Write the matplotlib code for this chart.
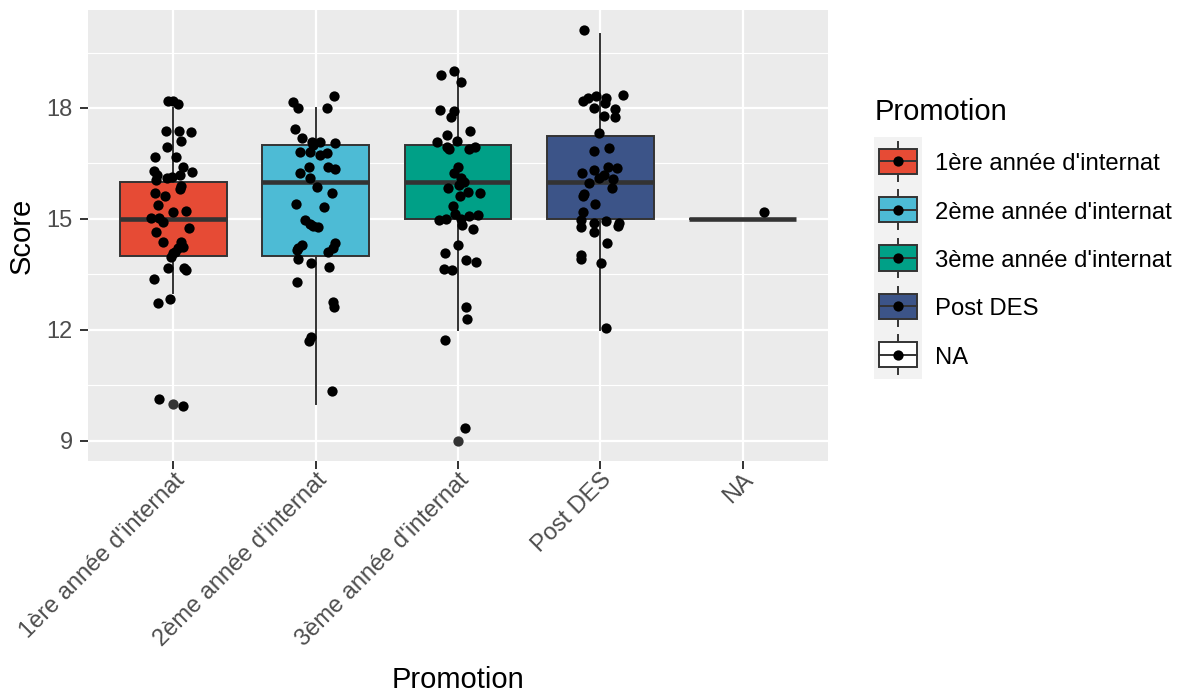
import matplotlib
matplotlib.use("Agg")
import matplotlib.pyplot as plt
from matplotlib.patches import Rectangle

plt.rcParams['font.family'] = ['Liberation Sans', 'DejaVu Sans']

# ---------------- data ----------------
categories = ["1ère année d'internat", "2ème année d'internat", "3ème année d'internat", "Post DES", "NA"]
fill_colors = ["#E64B35", "#4DBBD5", "#00A087", "#3C5488", "#FFFFFF"]

# box statistics (whisker low, Q1, median, Q3, whisker high) and outliers
whislo = [13, 10, 12, 12, 15]
q1 = [14, 14, 15, 15, 15]
med = [15, 16, 16, 16, 15]
q3 = [16, 17, 17, 17.25, 15]
whishi = [18, 18, 19, 20, 15]
outliers = [[10], [], [9], [], []]

# jittered points: horizontal jitter (category units) and displayed score
g1_dx = [-0.035, 0, 0.035, -0.049, 0.042, 0.127, 0.056, -0.042, -0.127, 0.021, 0.070, -0.134, 0.134,
         -0.113, -0.042, -0.007, 0.049, -0.120, 0.056, 0.049, -0.127, -0.056, -0.106, 0, 0.092,
         -0.155, -0.099, -0.070, 0.113, -0.120, -0.070, 0.056, 0.070, 0.035, 0.014, 0, -0.014,
         -0.035, 0.077, 0.092, -0.134, -0.021, -0.106, -0.102, 0.070]
g1_y = [18.2, 18.2, 18.1, 17.38, 17.37, 17.35, 17.1, 16.95, 16.68, 16.68, 16.4, 16.3, 16.27,
        16.2, 16.1, 16.13, 16.2, 16.05, 15.9, 15.8, 15.7, 15.62, 15.38, 15.19, 15.2,
        15.03, 15.03, 14.92, 14.76, 14.65, 14.38, 14.38, 14.24, 14.22, 14.1, 14.08, 13.97,
        13.68, 13.68, 13.62, 13.38, 12.84, 12.72, 10.14, 9.95]

g2_dx = [0.127, -0.162, -0.127, 0.077, -0.148, -0.099, -0.028, 0.028, -0.021, 0.134, -0.113, -0.042,
         0.028, 0.077, -0.049, 0.085, 0.134, -0.113, -0.042, 0.007, 0.113, -0.141, 0.056, -0.077,
         -0.042, 0.014, -0.021, -0.099, -0.127, -0.134, 0.134, 0.120, 0.085, -0.127, -0.035, 0.092,
         -0.134, 0.120, 0.127, -0.035, -0.049, 0.113]
g2_y = [18.32, 18.16, 18.0, 18.0, 17.43, 17.2, 17.08, 17.08, 17.0, 17.05, 16.8, 16.8,
        16.73, 16.78, 16.4, 16.4, 16.35, 16.24, 16.1, 15.86, 15.7, 15.4, 15.32, 14.97,
        14.86, 14.78, 14.81, 14.3, 14.2, 14.16, 14.35, 14.2, 14.1, 13.92, 13.8, 13.7,
        13.3, 12.75, 12.62, 11.8, 11.7, 10.35]

g3_dx = [-0.120, -0.028, 0.021, -0.127, -0.049, -0.028, 0.085, -0.077, -0.148, -0.007, -0.077, -0.063,
         0.077, 0.120, 0, -0.028, 0.021, 0.042, 0.007, 0.070, 0.014, -0.070, 0.155, -0.035,
         -0.021, -0.134, -0.085, 0.021, 0.077, 0.141, 0.028, 0.106, 0, -0.092, 0.056, 0.127,
         -0.099, -0.042, 0.056, 0.063, -0.094, 0.049]
g3_y = [18.9, 19.0, 18.7, 17.95, 17.76, 17.92, 17.38, 17.27, 17.08, 17.1, 16.95, 16.9,
        16.9, 16.95, 16.4, 16.24, 16.1, 16.0, 15.92, 15.73, 15.62, 15.84, 15.7, 15.35,
        15.14, 14.97, 15.0, 15.0, 15.08, 15.1, 14.84, 14.73, 14.3, 14.08, 13.9, 13.84,
        13.65, 13.62, 12.62, 12.3, 11.73, 9.35]

g4_dx = [-0.113, 0.162, -0.120, -0.085, -0.028, 0.042, 0.035, -0.042, 0.106, 0.028, 0.106, -0.007,
         -0.042, 0.063, -0.127, -0.042, 0.056, 0.120, -0.077, -0.007, 0.028, 0.092, 0.085,
         -0.113, -0.120, -0.035, -0.120, -0.134, -0.134, -0.042, 0.042, 0.134, 0.127, -0.042,
         0.049, -0.134, -0.134, 0.007, 0.042]
g4_y = [20.1, 18.35, 18.19, 18.27, 18.32, 18.27, 18.14, 18.0, 17.97, 17.78, 17.76, 17.32,
        16.84, 16.92, 16.24, 16.32, 16.4, 16.38, 15.97, 16.1, 16.19, 16.08, 15.84,
        15.68, 15.62, 15.4, 15.19, 14.97, 14.78, 14.89, 14.95, 14.89, 14.81, 14.65,
        14.35, 14.03, 13.92, 13.81, 12.05]

g5_dx = [0.148]
g5_y = [15.19]

y_ticks = [9, 12, 15, 18]
y_minor = [10.5, 13.5, 16.5, 19.5]

# ---------------- figure ----------------
W, H = 1180, 693
fig = plt.figure(figsize=(W / 100, H / 100), dpi=100)
ax = fig.add_axes([88 / W, 1 - 461 / H, 740 / W, 451 / H])
ax.set_facecolor("#EBEBEB")
for s in ax.spines.values():
    s.set_visible(False)

positions = list(range(1, len(categories) + 1))
stats = []
for i in range(len(categories)):
    stats.append(dict(whislo=whislo[i], q1=q1[i], med=med[i], q3=q3[i],
                      whishi=whishi[i], fliers=outliers[i]))

edge = "#333333"
bp = ax.bxp(stats, positions=positions, widths=0.75, patch_artist=True, showcaps=False,
            boxprops=dict(edgecolor=edge, linewidth=1.4),
            whiskerprops=dict(color=edge, linewidth=1.4),
            medianprops=dict(color=edge, linewidth=3.3, solid_capstyle='butt'),
            flierprops=dict(marker='o', markerfacecolor=edge, markeredgecolor='none', markersize=7.4),
            zorder=2)
for patch, c in zip(bp['boxes'], fill_colors):
    patch.set_facecolor(c)

groups = [(g1_dx, g1_y), (g2_dx, g2_y), (g3_dx, g3_y), (g4_dx, g4_y), (g5_dx, g5_y)]
for p, (dx, ys) in zip(positions, groups):
    xs = [p + d for d in dx]
    ax.scatter(xs, ys, s=7.4 ** 2, c="black", linewidths=0, zorder=3)

ax.set_xlim(0.4, 5.6)
ax.set_ylim(8.45, 20.65)
ax.set_xticks(positions)
ax.set_xticklabels(categories, rotation=45, ha='right', va='top', rotation_mode='anchor')
ax.set_yticks(y_ticks)
ax.set_yticklabels([str(t) for t in y_ticks])
ax.set_yticks(y_minor, minor=True)
ax.tick_params(axis='both', which='major', length=5.8, width=1.4, color="#333333",
               labelsize=17, labelcolor="#4D4D4D")
ax.tick_params(axis='y', which='major', pad=5)
ax.tick_params(axis='x', which='major', pad=0)
ax.tick_params(axis='y', which='minor', length=0)
ax.set_axisbelow(True)
ax.grid(True, which='major', color='white', linewidth=1.6)
ax.grid(True, which='minor', axis='y', color='white', linewidth=0.8)

fig.text(22 / W, 1 - 235.5 / H, "Score", rotation=90, ha='center', va='center', fontsize=21)
fig.text(458 / W, 1 - 688 / H, "Promotion", ha='center', va='baseline', fontsize=21)

# ---------------- legend ----------------
fig.text(875 / W, 1 - 120 / H, "Promotion", ha='left', va='baseline', fontsize=21)
n = len(categories)
key_top, key_bot = 137, 379
kax = fig.add_axes([874 / W, 1 - key_bot / H, 48 / W, (key_bot - key_top) / H])
kax.set_facecolor("#F2F2F2")
kax.set_xlim(0, 1)
kax.set_ylim(n, 0)
kax.set_xticks([])
kax.set_yticks([])
for s in kax.spines.values():
    s.set_visible(False)
row_h = (key_bot - key_top) / n
for i, (lab, c) in enumerate(zip(categories, fill_colors)):
    yc = i + 0.5
    kax.plot([0.5, 0.5], [i + 0.1, i + 0.9], color=edge, linewidth=1.4, zorder=1)
    kax.add_patch(Rectangle((0.1, yc - 0.26), 0.8, 0.52, facecolor=c, edgecolor=edge,
                            linewidth=1.4, zorder=2))
    kax.plot([0.1, 0.9], [yc, yc], color=edge, linewidth=1.4, zorder=3)
    kax.scatter([0.5], [yc], s=7.4 ** 2, c="black", linewidths=0, zorder=4)
    fig.text(935 / W, 1 - (key_top + row_h * (i + 0.5) + 9) / H, lab, ha='left', va='baseline',
             fontsize=17.2)

fig.savefig("out.png", dpi=100)
